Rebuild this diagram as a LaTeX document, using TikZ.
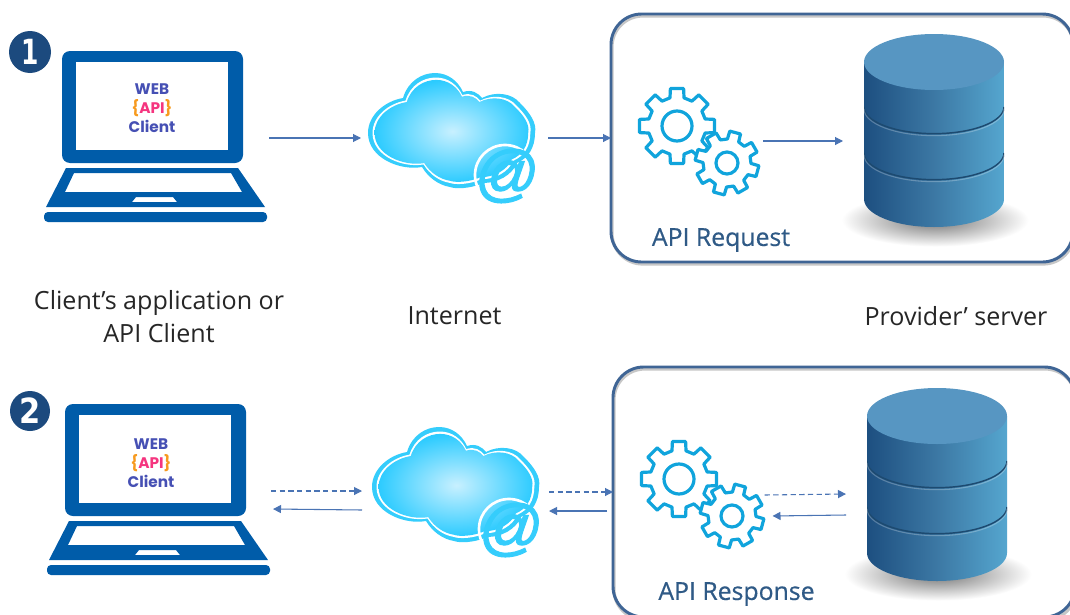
\documentclass[tikz,border=0pt]{standalone}
\usepackage{fontspec}
\setmainfont{Open Sans}
\newfontfamily\labelfont[FakeBold=0.5]{Open Sans}
\newfontfamily\logofont{Poppins}
\newfontfamily\numfont{DejaVu Sans}
\newfontfamily\atfont[FakeBold=1.6,FakeSlant=0.12]{Liberation Sans}
\usetikzlibrary{arrows.meta,calc}
\definecolor{lapblue}{HTML}{005CA9}
\definecolor{numblue}{HTML}{1C4A7E}
\definecolor{boxblue}{HTML}{3F6595}
\definecolor{arrowblue}{HTML}{4A74B4}
\definecolor{gearblue}{HTML}{10A4DC}
\definecolor{cloudring}{HTML}{35CDFC}
\definecolor{cloudin}{HTML}{C8F0FF}
\definecolor{cloudout}{HTML}{2CCBFF}
\definecolor{dbleft}{HTML}{1D4F80}
\definecolor{dbmid}{HTML}{3C78A4}
\definecolor{dbright}{HTML}{55A6CF}
\definecolor{dbtop}{HTML}{5796C2}
\definecolor{dbline}{HTML}{1D4A70}
\definecolor{logoblue}{HTML}{4650B4}
\definecolor{logopink}{HTML}{F5357F}
\definecolor{logoorange}{HTML}{F79A1E}
\definecolor{labelblue}{HTML}{2F5A86}
\tikzset{
  x=0.75pt,y=-0.75pt,
  flow/.style={draw=arrowblue,line width=0.8pt,-{Triangle[length=6pt,width=6pt]}},
  flowdash/.style={flow,dash pattern=on 4pt off 2.5pt},
  group/.style={inner sep=0pt,outer sep=0pt,minimum width=#1},
  roundbox/.style={draw=boxblue,line width=2.2pt,rounded corners=23pt,inner sep=0pt,outer sep=0pt},
  caption/.style={font=\fontsize{18.8}{25}\selectfont,align=center,text=black!85,inner sep=0pt},
  boxlabel/.style={font=\labelfont\fontsize{18.6}{22}\selectfont,text=labelblue,inner sep=0pt},
  numdisc/.style={circle,fill=numblue,text=white,inner sep=0pt,minimum size=31pt,font=\numfont\bfseries\fontsize{26}{26}\selectfont},
  logo/.style={inner sep=0pt,align=center,font=\logofont\bfseries\fontsize{11.5}{14.2}\selectfont,text=logoblue},
  atsign/.style={inner sep=0pt,text=cloudring,font=\atfont\fontsize{47}{47}\selectfont},
  gearline/.style={draw=gearblue,line width=2.4pt,fill=white,line join=round}
}
\newcommand{\laptopicon}[2]{%
  \begin{scope}[shift={(#1,#2)}]
    \fill[lapblue,rounded corners=6pt] (62,51) rectangle (243,163);
    \fill[white] (76,62) rectangle (228,150);
    \fill[lapblue,even odd rule] (66,168) -- (238,168) -- (265,207) -- (46,207) -- cycle
      (74,173) -- (231,173) -- (242,192) -- (65,192) -- cycle
      (136,197) -- (173,197) -- (177,202) -- (132,202) -- cycle;
    \fill[lapblue,rounded corners=3pt] (44,212) rectangle (267,222);
  \end{scope}}
\newcommand{\cloudpath}{(-47,-35) .. controls (-42,-52) and (-28,-60) .. (-15,-60)
  .. controls (-2,-60) and (8,-52) .. (13,-41)
  .. controls (22,-44) and (28,-40) .. (32,-35)
  .. controls (45,-42) and (62,-40) .. (70,-30)
  .. controls (80,-20) and (87,-10) .. (85,0)
  .. controls (85,15) and (78,25) .. (67,30)
  .. controls (62,42) and (48,50) .. (33,50)
  .. controls (20,56) and (5,56) .. (0,54)
  .. controls (-12,52) and (-22,44) .. (-28,34)
  .. controls (-50,38) and (-82,25) .. (-82,0)
  .. controls (-82,-18) and (-65,-32) .. (-47,-35) -- cycle}
\newcommand{\cloudicon}[2]{%
  \begin{scope}[shift={(#1,#2)}]
    \fill[cloudring] \cloudpath;
    \begin{scope}[xscale=.945,yscale=.925] \fill[white] \cloudpath; \end{scope}
    \begin{scope}[xscale=.92,yscale=.885]
      \shade[inner color=cloudin,outer color=cloudout] \cloudpath;
    \end{scope}
    \draw[white,line width=2pt] (55,42) circle[radius=30];
  \end{scope}}
\newcommand{\gearicon}[6]{%
  \begin{scope}[shift={(#1,#2)}]
    \draw[gearline] (#6-14:#4)
      \foreach \a in {0,45,...,315}{
        -- (\a+#6-14:#4) -- (\a+#6-10:#3) -- (\a+#6+10:#3) -- (\a+#6+14:#4)
      } -- cycle;
    \draw[draw=gearblue,line width=2.4pt] (0,0) circle[radius=#5];
  \end{scope}}
\newcommand{\dbicon}[2]{%
  \begin{scope}[shift={(#1,#2)}]
    \shade[inner color=black!55,outer color=white] (935,220) ellipse[x radius=70pt,y radius=20pt];
    \shade[left color=dbleft,right color=dbright,middle color=dbmid]
      (864,62) -- (864,199) arc[start angle=180,end angle=360,x radius=52.5pt,y radius=21pt] -- (1004,62) -- cycle;
    \fill[dbtop] (934,62) ellipse[x radius=52.5pt,y radius=21pt];
    \begin{scope}
      \clip (864,62) rectangle (1004,230);
      \draw[dbline,line width=1.1pt] (864,107) arc[start angle=180,end angle=360,x radius=52.5pt,y radius=20pt];
      \draw[dbline,line width=1.1pt] (864,153) arc[start angle=180,end angle=360,x radius=52.5pt,y radius=20pt];
      \draw[white,opacity=.25,line width=.8pt] (864,109) arc[start angle=180,end angle=360,x radius=52.5pt,y radius=20pt];
      \draw[white,opacity=.25,line width=.8pt] (864,155) arc[start angle=180,end angle=360,x radius=52.5pt,y radius=20pt];
    \end{scope}
  \end{scope}}
\begin{document}
\begin{tikzpicture}
\useasboundingbox (0,0) rectangle (1070,614);
\fill[white] (0,0) rectangle (1070,614);
\clip (0,0) rectangle (1070,614);

% boxes
\draw[black!22,line width=2.4pt,rounded corners=23pt] (612,16) rectangle (1074,264);
\draw[black!22,line width=2.4pt,rounded corners=23pt] (614,369) rectangle (1076,620);
\node[roundbox,minimum width=346.5pt,minimum height=186pt] (box1) at (842,138) {};
\node[roundbox,minimum width=346.5pt,minimum height=187.5pt] (box2) at (844,492) {};

% icons
\laptopicon{0}{0}
\laptopicon{3}{353}
\cloudicon{450}{133}
\cloudicon{454}{487}
\gearicon{677}{126}{38}{29}{15}{0}
\gearicon{727}{163}{32}{24}{11}{15}
\gearicon{679}{479}{38}{29}{15}{0}
\gearicon{732}{516}{32}{24}{11}{15}
\dbicon{0}{0}
\dbicon{3}{354}

% logical areas of the icons, used as connector ends
\node[group=168.75pt,minimum height=126pt] (laptop1) at (156.5,138) {};
\node[group=140.25pt,minimum height=97.5pt] (cloud1) at (454.5,138) {};
\node[group=93pt,minimum height=79.5pt] (gears1) at (701,141) {};
\node[group=120.75pt,minimum height=144.75pt] (db1) at (923.5,141) {};
\node[group=168.75pt,minimum height=126pt] (laptop2) at (158.5,500) {};
\node[group=140.25pt,minimum height=97.5pt] (cloud2) at (455.5,500) {};
\node[group=93pt,minimum height=79.5pt] (gears2) at (702.5,505) {};
\node[group=120.75pt,minimum height=144.75pt] (db2) at (926.5,505) {};

% at signs
\node[atsign] (at1) at (505,176) {@};
\node[atsign] (at2) at (509,530) {@};

% number discs
\node[numdisc,minimum size=31.5pt] (n1) at (30,52) {\scalebox{.72}[1]{1}};
\node[numdisc,minimum size=30pt] (n2) at (30,411) {\scalebox{.88}[1]{2}};

% logos
\node[logo] (logo1) at (152,108.5) {WEB\\\textcolor{logoorange}{\{}\textcolor{logopink}{API}\textcolor{logoorange}{\}}\\Client};
\node[logo] (logo2) at (151,463.5) {WEB\\\textcolor{logoorange}{\{}\textcolor{logopink}{API}\textcolor{logoorange}{\}}\\Client};

% connectors row 1
\draw[flow] (laptop1.east) -- (cloud1.west);
\draw[flow] (cloud1.east) -- (box1.west);
\draw[flow] (gears1.east) -- (db1.west);

% connectors row 2
\draw[flowdash] ($(laptop2.east)+(0,-9)$) -- ($(cloud2.west)+(0,-9)$);
\draw[flow] ($(cloud2.west)+(0,10)$) -- ($(laptop2.east)+(2,9)$);
\draw[flowdash] ($(cloud2.east)+(0,-8)$) -- (box2.west);
\draw[flow] ($(box2.west)+(-6,19)$) -- ($(cloud2.east)+(0,11)$);
\draw[flowdash] ($(gears2.east)+(0,-10)$) -- ($(db2.west)+(0,-11)$);
\draw[flow] ($(db2.west)+(0,10)$) -- ($(gears2.east)+(8,11)$);

% labels
\node[caption] (capclient) at (159,316.5) {Client’s application or\\API Client};
\node[caption] (capnet) at (454.5,316) {Internet};
\node[caption] (capprov) at (956,316) {Provider’ server};
\node[boxlabel] (lab1) at (721,240) {API Request};
\node[boxlabel] (lab2) at (736.5,594) {API Response};
\end{tikzpicture}
\end{document}
